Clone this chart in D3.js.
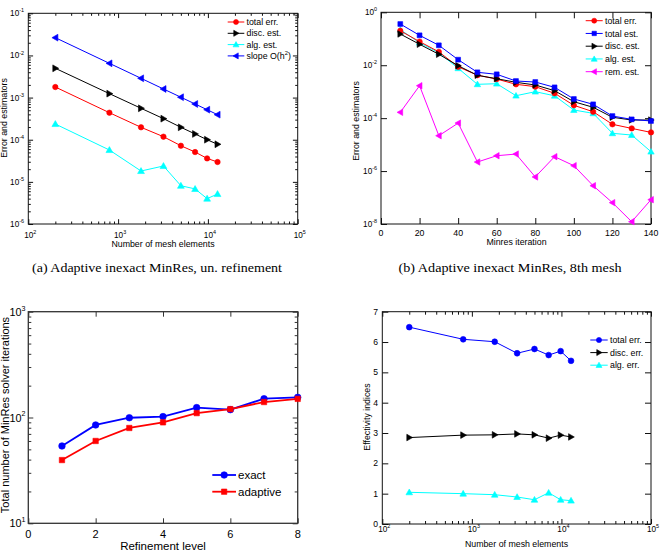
<!DOCTYPE html>
<html><head><meta charset="utf-8">
<script src="https://cdn.jsdelivr.net/npm/d3@7"></script>
<style>body{margin:0;background:#fff} svg{display:block} text{font-family:"Liberation Sans",Arial,Helvetica,sans-serif}</style>
</head><body><svg id="c" width="662" height="555"></svg>
<script>
// ---------- data ----------
const meshElements = [200, 800, 1800, 3200, 5000, 7200, 9800, 12800];
const aTotalErr = [1.78e-3, 4.38e-4, 1.97e-4, 1.18e-4, 7.2e-5, 5.1e-5, 3.6e-5, 2.96e-5];
const aDiscEst  = [4.95e-3, 1.24e-3, 5.57e-4, 3.16e-4, 1.97e-4, 1.37e-4, 1.0e-4, 7.8e-5];
const aAlgEst   = [2.36e-4, 5.7e-5, 1.81e-5, 2.38e-5, 8.1e-6, 6.8e-6, 4.0e-6, 5.15e-6];
const aSlope    = [2.64e-2, 6.5e-3, 2.87e-3, 1.6e-3, 1.02e-3, 7.05e-4, 5.16e-4, 3.93e-4];

const iterations = [10, 20, 30, 40, 50, 60, 70, 80, 90, 100, 110, 120, 130, 140];
const bTotalErr = [0.2, 0.078, 0.032, 8.7e-3, 4.2e-3, 3.0e-3, 1.9e-3, 1.55e-3, 8.7e-4, 3.06e-4, 1.75e-4, 5.85e-5, 4.1e-5, 2.9e-5];
const bTotalEst = [0.361, 0.135, 0.0566, 0.0162, 5.4e-3, 4.54e-3, 2.53e-3, 2.32e-3, 1.46e-3, 5.3e-4, 3.33e-4, 1.2e-4, 9.0e-5, 7.8e-5];
const bDiscEst  = [0.151, 0.0618, 0.0259, 9.6e-3, 4.16e-3, 3.09e-3, 2.26e-3, 1.79e-3, 1.09e-3, 4.18e-4, 2.57e-4, 1.08e-4, 8.5e-5, 8.5e-5];
const bAlgEst   = [0.22, 0.071, 0.0297, 7.65e-3, 1.9e-3, 2.0e-3, 7.05e-4, 1.0e-3, 7.0e-4, 2.03e-4, 1.52e-4, 2.67e-5, 2.3e-5, 5.4e-6];
const bRemEst   = [1.66e-4, 1.68e-3, 2.17e-5, 6.5e-5, 2.2e-6, 3.8e-6, 4.4e-6, 6.0e-7, 3.5e-6, 1.6e-6, 2.8e-7, 6.4e-8, 1.22e-8, 8.3e-8];

const refinementLevels = [1, 2, 3, 4, 5, 6, 7, 8];
const cExact    = [53.8, 85, 99.5, 102, 124, 118.6, 150.6, 155];
const cAdaptive = [39.6, 60, 79.6, 90, 110, 120, 140, 150];

const dTotalErr = [6.49, 6.09, 6.01, 5.63, 5.77, 5.57, 5.70, 5.38];
const dDiscErr  = [2.85, 2.93, 2.94, 2.97, 2.94, 2.83, 2.93, 2.87];
const dAlgErr   = [1.045, 1.0, 0.966, 0.89, 0.80, 1.03, 0.80, 0.77];

const logTicksA = [1e2, 1e3, 1e4, 1e5];
const logTicksAY = [1e-6, 1e-5, 1e-4, 1e-3, 1e-2, 1e-1];
const iterTicks = [0, 20, 40, 60, 80, 100, 120, 140];
const logTicksBY = [1e-8, 1e-6, 1e-4, 1e-2, 1e0];
const levelTicks = [0, 2, 4, 6, 8];
const logTicksCY = [1e1, 1e2, 1e3];
const effTicks = [0, 1, 2, 3, 4, 5, 6, 7];

const captionA = "(a) Adaptive inexact MinRes, un. refinement";
const captionB = "(b) Adaptive inexact MinRes, 8th mesh";

// ---------- helpers ----------
const svg = d3.select('#c');
svg.append('rect').attr('width', 662).attr('height', 555).attr('fill', '#fff');

function minorLog(lo, hi) {
  const out = [];
  for (let e = Math.round(Math.log10(lo)); e < Math.round(Math.log10(hi)); e++)
    for (let m = 2; m <= 9; m++) out.push(m * Math.pow(10, e));
  return out;
}
function supLabel(x, y, exp, size, anchor) {
  const t = svg.append('text').attr('x', x).attr('y', y).attr('text-anchor', anchor)
    .attr('font-size', size).attr('fill', '#000');
  t.append('tspan').text('10');
  t.append('tspan').attr('dy', -size * 0.48).attr('font-size', size * 0.66).text(exp);
}
function ticks(xs, ys, xVals, yVals, lenX, lenY, color) {
  const [x0, x1] = xs.range(), [y0, y1] = ys.range();
  const rm = a => a.select('.domain').remove();
  if (xVals.length) {
    svg.append('g').attr('transform', `translate(0,${y0})`).attr('color', color)
      .call(d3.axisBottom(xs).tickValues(xVals).tickSize(-lenX).tickFormat('')).call(rm);
    svg.append('g').attr('transform', `translate(0,${y1})`).attr('color', color)
      .call(d3.axisTop(xs).tickValues(xVals).tickSize(-lenX).tickFormat('')).call(rm);
  }
  if (yVals.length) {
    svg.append('g').attr('transform', `translate(${x0},0)`).attr('color', color)
      .call(d3.axisLeft(ys).tickValues(yVals).tickSize(-lenY).tickFormat('')).call(rm);
    svg.append('g').attr('transform', `translate(${x1},0)`).attr('color', color)
      .call(d3.axisRight(ys).tickValues(yVals).tickSize(-lenY).tickFormat('')).call(rm);
  }
}
function frame(xs, ys, color, w) {
  const [x0, x1] = xs.range(), [y0, y1] = ys.range();
  svg.append('rect').attr('x', x0).attr('y', y1).attr('width', x1 - x0).attr('height', y0 - y1)
    .attr('fill', 'none').attr('stroke', color).attr('stroke-width', w);
}
function markerPath(shape, s) {
  switch (shape) {
    case 'up': return `M0,${-s}L${s},${s * 0.75}L${-s},${s * 0.75}Z`;
    case 'right': return `M${s},0L${-s * 0.75},${s}L${-s * 0.75},${-s}Z`;
    case 'left': return `M${-s},0L${s * 0.75},${s}L${s * 0.75},${-s}Z`;
    case 'square': return `M${-s},${-s}H${s}V${s}H${-s}Z`;
    default: return `M${s},0A${s},${s} 0 1,1 ${-s},0A${s},${s} 0 1,1 ${s},0Z`;
  }
}
function marker(g, x, y, shape, s, color) {
  g.append('path').attr('d', markerPath(shape, s)).attr('transform', `translate(${x},${y})`)
    .attr('fill', color).attr('stroke', color).attr('stroke-width', 0.6);
}
function series(xs, ys, xv, yv, color, shape, s, lw) {
  const g = svg.append('g');
  const line = d3.line().x((d, i) => xs(xv[i])).y(d => ys(d));
  g.append('path').attr('d', line(yv)).attr('fill', 'none').attr('stroke', color).attr('stroke-width', lw);
  yv.forEach((v, i) => marker(g, xs(xv[i]), ys(v), shape, s, color));
}
function legendEntry(x0, x1, xt, y, color, shape, s, lw, label, size, sup) {
  const g = svg.append('g');
  g.append('line').attr('x1', x0).attr('x2', x1).attr('y1', y).attr('y2', y).attr('stroke', color).attr('stroke-width', lw);
  marker(g, (x0 + x1) / 2, y, shape, s, color);
  const t = g.append('text').attr('x', xt).attr('y', y + size * 0.36).attr('font-size', size).attr('fill', '#000');
  t.append('tspan').text(label);
  if (sup) {
    t.append('tspan').attr('dy', -size * 0.45).attr('font-size', size * 0.66).text(sup);
    t.append('tspan').attr('dy', size * 0.45).text(')');
  }
}
function expOf(v) { return String(Math.round(Math.log10(v))); }

// ---------- Panel A ----------
{
  const xs = d3.scaleLog().domain([1e2, 1e5]).range([28.3, 297.7]);
  const ys = d3.scaleLog().domain([1e-6, 1e-1]).range([224, 13.3]);
  ticks(xs, ys, minorLog(1e2, 1e5), minorLog(1e-6, 1e-1), 2.5, 2.5, '#111');
  ticks(xs, ys, logTicksA, logTicksAY, 4.8, 4.8, '#111');
  frame(xs, ys, '#111', 1);
  logTicksA.forEach(v => supLabel(xs(v) + 2, 237.5, expOf(v), 8.2, 'middle'));
  logTicksAY.forEach(v => supLabel(24, ys(v) + 3, expOf(v), 8.2, 'end'));
  svg.append('text').attr('x', 163).attr('y', 246.5).attr('text-anchor', 'middle').attr('font-size', 8.8).text('Number of mesh elements');
  svg.append('text').attr('transform', 'translate(7,118) rotate(-90)').attr('text-anchor', 'middle').attr('font-size', 8.8).text('Error and estimators');
  series(xs, ys, meshElements, aSlope, '#0000ff', 'left', 3.4, 1);
  series(xs, ys, meshElements, aDiscEst, '#000000', 'right', 3.4, 1);
  series(xs, ys, meshElements, aTotalErr, '#ff0000', 'circle', 2.7, 1);
  series(xs, ys, meshElements, aAlgEst, '#00ffff', 'up', 3.4, 1);
  const L = [['total err.', '#ff0000', 'circle', 2.5], ['disc. est.', '#000000', 'right', 3], ['alg. est.', '#00ffff', 'up', 3], ['slope O(h', '#0000ff', 'left', 3]];
  L.forEach((d, i) => legendEntry(227.7, 244.3, 246.5, 22 + i * 11.3, d[1], d[2], d[3], 1, d[0], 8.8, i === 3 ? '2' : null));
  svg.append('text').attr('x', 157).attr('y', 271.5).attr('text-anchor', 'middle')
    .style('font-family', '"Liberation Serif","DejaVu Serif",serif')
    .attr('font-size', 13).attr('textLength', 250).attr('lengthAdjust', 'spacingAndGlyphs').text(captionA);
}

// ---------- Panel B ----------
{
  const xs = d3.scaleLinear().domain([0, 140]).range([381, 651]);
  const ys = d3.scaleLog().domain([1e-8, 1e0]).range([224, 12.3]);
  ticks(xs, ys, iterTicks, logTicksBY, 6, 6, '#111');
  frame(xs, ys, '#111', 1);
  iterTicks.forEach(v => svg.append('text').attr('x', xs(v)).attr('y', 236).attr('text-anchor', 'middle').attr('font-size', 8.8).text(v));
  logTicksBY.forEach(v => supLabel(377, ys(v) + 3, expOf(v), 8.2, 'end'));
  svg.append('text').attr('x', 516.5).attr('y', 245).attr('text-anchor', 'middle').attr('font-size', 8.8).text('Minres iteration');
  svg.append('text').attr('transform', 'translate(359,121) rotate(-90)').attr('text-anchor', 'middle').attr('font-size', 8.8).text('Error and estimators');
  series(xs, ys, iterations, bRemEst, '#ff00ff', 'left', 3.2, 1);
  series(xs, ys, iterations, bAlgEst, '#00ffff', 'up', 3.2, 1);
  series(xs, ys, iterations, bTotalErr, '#ff0000', 'circle', 2.7, 1);
  series(xs, ys, iterations, bDiscEst, '#000000', 'right', 3.2, 1);
  series(xs, ys, iterations, bTotalEst, '#0000ff', 'square', 2.4, 1);
  const L = [['total err.', '#ff0000', 'circle', 2.5], ['total est.', '#0000ff', 'square', 2.2], ['disc. est.', '#000000', 'right', 3], ['alg. est.', '#00ffff', 'up', 3], ['rem. est.', '#ff00ff', 'left', 3]];
  L.forEach((d, i) => legendEntry(585.7, 602.7, 605, 20.7 + i * 12.75, d[1], d[2], d[3], 1, d[0], 8.8));
  svg.append('text').attr('x', 510).attr('y', 271.5).attr('text-anchor', 'middle')
    .style('font-family', '"Liberation Serif","DejaVu Serif",serif')
    .attr('font-size', 13).attr('textLength', 223).attr('lengthAdjust', 'spacingAndGlyphs').text(captionB);
}

// ---------- Panel C ----------
{
  const xs = d3.scaleLinear().domain([0, 8]).range([28.3, 297.7]);
  const ys = d3.scaleLog().domain([10, 1000]).range([523.3, 311.7]);
  ticks(xs, ys, [], minorLog(10, 1000), 0, 3, '#333');
  ticks(xs, ys, levelTicks, logTicksCY, 5, 5, '#333');
  frame(xs, ys, '#333', 1.3);
  levelTicks.forEach(v => svg.append('text').attr('x', xs(v)).attr('y', 538).attr('text-anchor', 'middle').attr('font-size', 11).text(v));
  logTicksCY.forEach(v => supLabel(25.5, ys(v) + 4, expOf(v), 10.8, 'end'));
  svg.append('text').attr('x', 163).attr('y', 550).attr('text-anchor', 'middle').attr('font-size', 11.5).text('Refinement level');
  svg.append('text').attr('transform', 'translate(8.6,415) rotate(-90)').attr('text-anchor', 'middle').attr('font-size', 11).text('Total number of MinRes solver iterations');
  series(xs, ys, refinementLevels, cExact, '#0000ff', 'circle', 3.3, 1.8);
  series(xs, ys, refinementLevels, cAdaptive, '#ff0000', 'square', 2.7, 1.8);
  legendEntry(212.3, 236, 238, 475, '#0000ff', 'circle', 3.3, 1.8, 'exact', 11.5);
  legendEntry(212.3, 236, 238, 491.7, '#ff0000', 'square', 2.7, 1.8, 'adaptive', 11.5);
}

// ---------- Panel D ----------
{
  const xs = d3.scaleLog().domain([1e2, 1e5]).range([382.3, 651]);
  const ys = d3.scaleLinear().domain([0, 7]).range([524, 311.7]);
  ticks(xs, ys, minorLog(1e2, 1e5), [], 3, 0, '#111');
  ticks(xs, ys, logTicksA, effTicks, 5, 6, '#111');
  frame(xs, ys, '#111', 1);
  logTicksA.forEach(v => supLabel(xs(v) + 2, 532, expOf(v), 8.2, 'middle'));
  effTicks.forEach(v => svg.append('text').attr('x', 378).attr('y', ys(v) + 3).attr('text-anchor', 'end').attr('font-size', 8.6).text(v));
  svg.append('text').attr('x', 516.5).attr('y', 547).attr('text-anchor', 'middle').attr('font-size', 8.8).text('Number of mesh elements');
  svg.append('text').attr('transform', 'translate(369.5,417) rotate(-90)').attr('text-anchor', 'middle').attr('font-size', 8.8).text('Effectivity indices');
  series(xs, ys, meshElements, dTotalErr, '#0000ff', 'circle', 2.9, 1);
  series(xs, ys, meshElements, dDiscErr, '#000000', 'right', 3.3, 1);
  series(xs, ys, meshElements, dAlgErr, '#00ffff', 'up', 3.3, 1);
  const L = [['total err.', '#0000ff', 'circle', 2.6], ['disc. err.', '#000000', 'right', 3], ['alg. err.', '#00ffff', 'up', 3]];
  L.forEach((d, i) => legendEntry(590.3, 607.7, 610, 340 + i * 12.6, d[1], d[2], d[3], 1, d[0], 8.8));
}
</script></body></html>
